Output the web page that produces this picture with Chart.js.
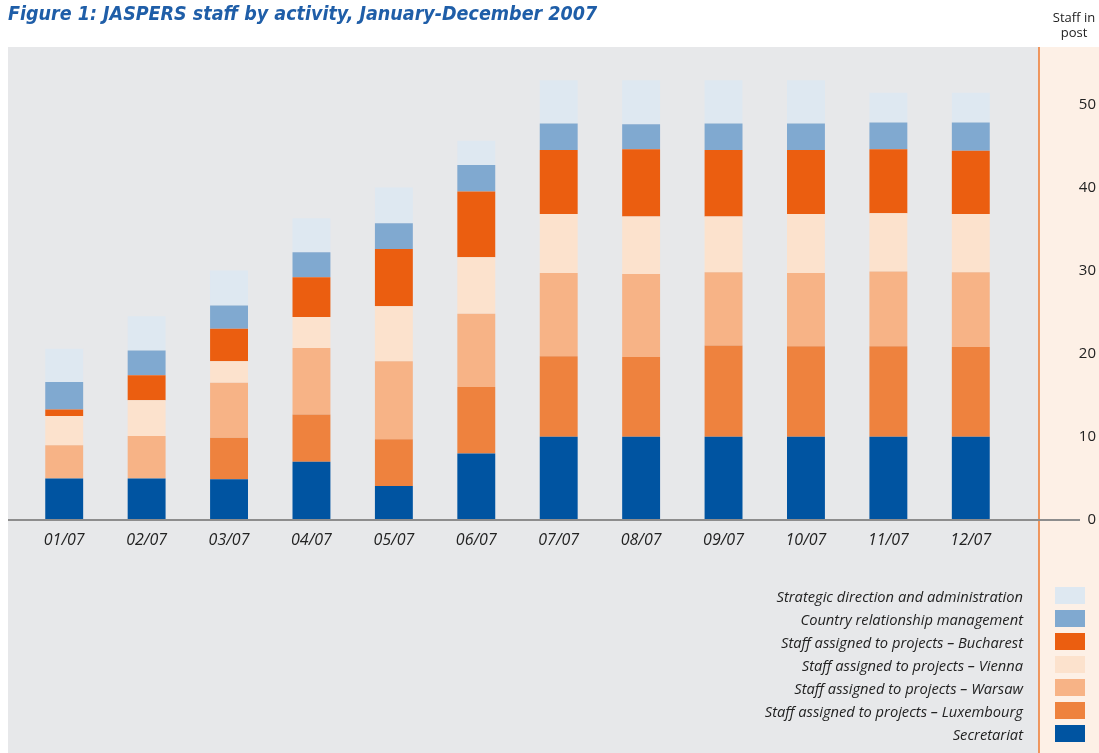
<!DOCTYPE html>
<html>
<head>
<meta charset="utf-8">
<title>JASPERS staff by activity</title>
<script src="https://cdn.jsdelivr.net/npm/chart.js@4.4.1/dist/chart.umd.min.js"></script>
<style>
  html, body { margin: 0; padding: 0; background: #fff; }
  #wrap { position: relative; width: 1099px; height: 753px; overflow: hidden; }
  #title { position: absolute; left: 8px; top: 2px; font: italic bold 19.5px "Liberation Sans Narrow", "DejaVu Sans Condensed", sans-serif; color: #1f5ea8; }
  #unit { position: absolute; left: 1045px; top: 10px; width: 58px; text-align: center; font: 13px "Open Sans", sans-serif; line-height: 15px; color: #222; }
  #legend { position: absolute; right: 14px; top: 584px; font: italic 14.7px "Open Sans", sans-serif; color: #222; }
  .item { display: flex; justify-content: flex-end; align-items: center; height: 23px; }
  .box { width: 30px; height: 17px; margin-left: 32px; }
</style>
</head>
<body>
<div id="wrap">
  <canvas id="myChart"></canvas>
  <div id="title">Figure 1: JASPERS staff by activity, January-December 2007</div>
  <div id="unit">Staff in<br>post</div>
  <div id="legend"></div>
</div>
<script>
// months
const months = ['01/07', '02/07', '03/07', '04/07', '05/07', '06/07', '07/07', '08/07', '09/07', '10/07', '11/07', '12/07'];

// staff per activity, stacked from bottom to top
const secretariat = [5, 5, 4.9, 7, 4.1, 8, 10, 10, 10, 10, 10, 10];
const luxembourg  = [0, 0, 5, 5.7, 5.6, 8, 9.7, 9.6, 11, 10.9, 10.9, 10.8];
const warsaw      = [4, 5.1, 6.6, 8, 9.4, 8.8, 10, 10, 8.8, 8.8, 9, 9];
const vienna      = [3.5, 4.3, 2.6, 3.7, 6.6, 6.8, 7.1, 6.9, 6.7, 7.1, 7, 7];
const bucharest   = [0.8, 3, 3.9, 4.8, 6.9, 7.9, 7.7, 8.1, 8, 7.7, 7.7, 7.6];
const country     = [3.3, 3, 2.8, 3, 3.1, 3.2, 3.2, 3, 3.2, 3.2, 3.2, 3.4];
const strategic   = [4, 4.1, 4.2, 4.1, 4.3, 2.9, 5.2, 5.3, 5.2, 5.2, 3.6, 3.6];

const yTicks = [0, 10, 20, 30, 40, 50];

const series = [
  { label: 'Secretariat', data: secretariat, color: '#0054a1' },
  { label: 'Staff assigned to projects – Luxembourg', data: luxembourg, color: '#ee823e' },
  { label: 'Staff assigned to projects – Warsaw', data: warsaw, color: '#f7b386' },
  { label: 'Staff assigned to projects – Vienna', data: vienna, color: '#fce2cd' },
  { label: 'Staff assigned to projects – Bucharest', data: bucharest, color: '#eb5e10' },
  { label: 'Country relationship management', data: country, color: '#80a9d0' },
  { label: 'Strategic direction and administration', data: strategic, color: '#dee8f1' }
];

//------------------------------------------------------------
// fondo gris, panel derecho y linea de base

const panels = {
  id: 'panels',
  beforeDraw(chart) {
    const {ctx, chartArea} = chart;
    const split = chartArea.right + 27;
    ctx.save();
    ctx.fillStyle = '#e7e8ea';
    ctx.fillRect(8, 47, split - 8, chart.height - 47);
    ctx.fillStyle = '#fdf0e6';
    ctx.fillRect(split, 47, chart.width - split, chart.height - 47);
    ctx.strokeStyle = '#ee7a30';
    ctx.lineWidth = 1.5;
    ctx.beginPath();
    ctx.moveTo(split, 47);
    ctx.lineTo(split, chart.height);
    ctx.stroke();
    ctx.restore();
  },
  afterDatasetsDraw(chart) {
    const {ctx, chartArea} = chart;
    const y0 = chart.scales.y.getPixelForValue(0);
    ctx.save();
    ctx.strokeStyle = '#8d8d8d';
    ctx.lineWidth = 2;
    ctx.beginPath();
    ctx.moveTo(8, y0);
    ctx.lineTo(chartArea.right + 68, y0);
    ctx.stroke();
    ctx.restore();
  }
};

Chart.defaults.font.family = '"Open Sans", sans-serif';
Chart.defaults.color = '#222';

const canvas = document.getElementById('myChart');
const myChart = new Chart(canvas, {
  type: 'bar',
  data: {
    labels: months,
    datasets: series.map(s => ({
      label: s.label,
      data: s.data,
      backgroundColor: s.color,
      borderWidth: 0,
      barPercentage: 0.46,
      categoryPercentage: 1
    }))
  },
  options: {
    responsive: true,
    maintainAspectRatio: false,
    animation: false,
    layout: { padding: { left: 23, right: 3, top: 49, bottom: 193 } },
    plugins: { legend: { display: false }, tooltip: { enabled: false } },
    scales: {
      x: {
        stacked: true,
        grid: { display: false, drawTicks: false },
        border: { display: false },
        ticks: { font: { size: 16, style: 'italic' }, padding: 11, maxRotation: 0 },
        afterFit(scale) { scale.height = 40; }
      },
      y: {
        stacked: true,
        position: 'right',
        min: 0,
        max: 53.4,
        grid: { display: false, drawTicks: false },
        border: { display: false },
        ticks: { font: { size: 15 }, padding: 67, crossAlign: 'far' },
        afterBuildTicks(scale) { scale.ticks = yTicks.map(v => ({ value: v })); },
        afterFit(scale) { scale.width = 84; }
      }
    }
  },
  plugins: [panels]
});

// leyenda
const legend = document.getElementById('legend');
series.slice().reverse().forEach(s => {
  const item = document.createElement('div');
  item.className = 'item';
  const txt = document.createElement('span');
  txt.innerText = s.label;
  const box = document.createElement('span');
  box.className = 'box';
  box.style.backgroundColor = s.color;
  item.appendChild(txt);
  item.appendChild(box);
  legend.appendChild(item);
});
</script>
</body>
</html>
